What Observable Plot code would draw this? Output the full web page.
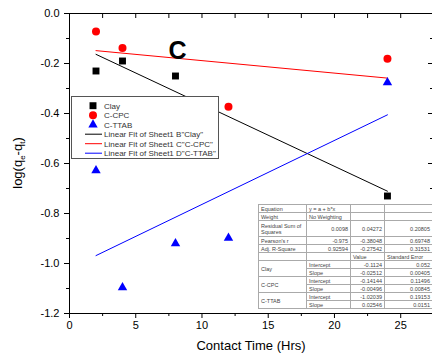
<!DOCTYPE html>
<html><head><meta charset="utf-8">
<script src="https://cdn.jsdelivr.net/npm/d3@7"></script>
<script src="https://cdn.jsdelivr.net/npm/@observablehq/plot@0.6"></script>
<style>
html,body{margin:0;padding:0;background:#fff;overflow:hidden}
#wrap{position:relative;width:432px;height:360px;font-family:"Liberation Sans",Arial,sans-serif}
#legend{position:absolute;left:71px;top:96px}
#tbl{position:absolute;left:258px;top:204px;border-collapse:collapse;table-layout:fixed;width:174px;background:#fff;border:1px solid #333;font-size:5.5px;color:#444;line-height:6px}
#tbl td{border:1px solid #aaa;padding:0 2px;height:7px;overflow:hidden;white-space:nowrap}
#tbl td.n{text-align:right}
</style></head><body><div id="wrap"></div>
<script>
// ---- data ----
const seriesNames = ["Clay", "C-CPC", "C-TTAB"];
const seriesColors = ["#000000", "#ff0000", "#0000ff"];
const fitLabels = ["Linear Fit of Sheet1 B\"Clay\"", "Linear Fit of Sheet1 C\"C-CPC\"", "Linear Fit of Sheet1 D\"C-TTAB\""];
const clayX = [2, 4, 8, 24];
const clayY = [-0.23, -0.19, -0.25, -0.73];
const cpcX = [2, 4, 12, 24];
const cpcY = [-0.072, -0.138, -0.373, -0.181];
const ttabX = [2, 4, 8, 12, 24];
const ttabY = [-0.628, -1.096, -0.92, -0.898, -0.276];
const xMajor = [0, 5, 10, 15, 20, 25];
const xMinor = [2.5, 7.5, 12.5, 17.5, 22.5];
const yMajor = [0, -0.2, -0.4, -0.6, -0.8, -1.0, -1.2];
const yMinor = [-0.1, -0.3, -0.5, -0.7, -0.9, -1.1];
const statNames = ["Equation", "Weight", "Residual Sum of Squares", "Pearson's r", "Adj. R-Square"];
const statValues = [["y = a + b*x", "", ""], ["No Weighting", "", ""], ["0.0098", "0.04272", "0.20805"], ["-0.975", "-0.38048", "0.69748"], ["0.92594", "-0.27542", "0.31531"]];
const paramHeader = ["Value", "Standard Error"];
const paramNames = ["Intercept", "Slope"];
const clayParams = [["-0.1124", "0.052"], ["-0.02512", "0.00405"]];
const cpcParams = [["-0.14144", "0.11496"], ["-0.00496", "0.00845"]];
const ttabParams = [["-1.02039", "0.19153"], ["0.02546", "0.0151"]];

const rows = [
  ...clayX.map((x, i) => ({series: "Clay", x, y: clayY[i]})),
  ...cpcX.map((x, i) => ({series: "C-CPC", x, y: cpcY[i]})),
  ...ttabX.map((x, i) => ({series: "C-TTAB", x, y: ttabY[i]}))
];
const fmt = d => d.toFixed(1);
const blank = () => "";

const plot = Plot.plot({
  width: 432, height: 360,
  marginLeft: 69, marginRight: 0, marginTop: 13, marginBottom: 47,
  x: {domain: [0, 27.4]},
  y: {domain: [-1.2, 0]},
  color: {domain: seriesNames, range: seriesColors},
  style: {fontFamily: "'Liberation Sans', Arial, sans-serif", color: "black", background: "white"},
  marks: [
    Plot.ruleX([0], {stroke: "black"}),
    Plot.ruleY([0, -1.2], {stroke: "black"}),
    Plot.axisX(xMajor, {tickSize: 5, tickPadding: 3, tickFormat: d => String(d), fontSize: 11, label: null}),
    Plot.axisX(xMinor, {tickSize: 3, tickFormat: blank, label: null}),
    Plot.axisX([...xMajor, ...xMinor], {anchor: "top", tickSize: -4, tickFormat: blank, label: null}),
    Plot.axisY(yMajor, {tickSize: 5, tickPadding: 5, tickFormat: fmt, fontSize: 11, label: null}),
    Plot.axisY(yMinor, {tickSize: 3, tickFormat: blank, label: null}),
    Plot.axisY(yMajor, {anchor: "right", tickSize: -5, tickFormat: blank, label: null}),
    Plot.axisY(yMinor, {anchor: "right", tickSize: -3, tickFormat: blank, label: null}),
    Plot.linearRegressionY(rows, {x: "x", y: "y", stroke: "series", ci: 0, strokeWidth: 1}),
    Plot.dot(rows.filter(d => d.series === "Clay"), {x: "x", y: "y", fill: "series", symbol: "square", r: 3.9}),
    Plot.dot(rows.filter(d => d.series === "C-CPC"), {x: "x", y: "y", fill: "series", symbol: "circle", r: 4}),
    Plot.dot(rows.filter(d => d.series === "C-TTAB"), {x: "x", y: "y", fill: "series", symbol: "triangle", r: 3.5}),
    Plot.text(["C"], {frameAnchor: "top-left", dx: 99, dy: 28, fontSize: 25, fontWeight: "bold"}),
    Plot.text(["Contact Time (Hrs)"], {frameAnchor: "bottom", dy: 36, fontSize: 13})
  ]
});
const wrap = document.getElementById("wrap");
wrap.appendChild(plot);

// y-axis label with subscripts
const svg = d3.select(plot);
const yl = svg.append("text")
  .attr("transform", "translate(22,163) rotate(-90)")
  .attr("text-anchor", "middle")
  .attr("font-size", 13)
  .attr("fill", "black");
yl.append("tspan").text("log(q");
yl.append("tspan").attr("font-size", 8).attr("dy", 3).text("e");
yl.append("tspan").attr("dy", -3).text("-q");
yl.append("tspan").attr("font-size", 8).attr("dy", 3).text("t");
yl.append("tspan").attr("dy", -3).text(")");

// legend
const lg = d3.select(wrap).append("svg").attr("id", "legend")
  .attr("width", 148).attr("height", 64);
lg.append("rect").attr("x", 0.5).attr("y", 0.5).attr("width", 147).attr("height", 62)
  .attr("fill", "white").attr("stroke", "#555");
const rowY = i => 9.7 + i * 9.5;
const sym = [d3.symbolSquare, d3.symbolCircle, d3.symbolTriangle];
const symSize = [48, 50, 38];
seriesNames.forEach((s, i) => {
  lg.append("path").attr("d", d3.symbol(sym[i], symSize[i])())
    .attr("transform", `translate(22,${rowY(i)})`).attr("fill", seriesColors[i]);
  lg.append("text").attr("x", 33).attr("y", rowY(i)).attr("dy", "0.35em")
    .attr("font-size", 8).attr("fill", "#333").text(s);
});
fitLabels.forEach((s, i) => {
  const y = rowY(i + 3);
  lg.append("line").attr("x1", 14).attr("x2", 31).attr("y1", y).attr("y2", y)
    .attr("stroke", seriesColors[i]).attr("stroke-width", 1);
  lg.append("text").attr("x", 33).attr("y", y).attr("dy", "0.35em")
    .attr("font-size", 8).attr("fill", "#333").text(s);
});

// fit table
const tbl = document.createElement("table");
tbl.id = "tbl";
let html = '<colgroup><col style="width:48px"><col style="width:44px"><col style="width:34px"><col style="width:48px"></colgroup>';
statNames.forEach((n, i) => {
  const v = statValues[i];
  const cls = i < 2 ? "" : "n";
  const h = i === 2 ? ' style="height:15px"' : "";
  html += `<tr><td${h}>${i === 2 ? "Residual Sum of<br>Squares" : n}</td><td class="${cls}">${v[0]}</td><td class="${cls}">${v[1]}</td><td class="${cls}">${v[2]}</td></tr>`;
});
html += `<tr><td></td><td></td><td>${paramHeader[0]}</td><td>${paramHeader[1]}</td></tr>`;
[clayParams, cpcParams, ttabParams].forEach((p, k) => {
  paramNames.forEach((pn, j) => {
    html += "<tr>" + (j === 0 ? `<td rowspan="2">${seriesNames[k]}</td>` : "") +
      `<td>${pn}</td><td class="n">${p[j][0]}</td><td class="n">${p[j][1]}</td></tr>`;
  });
});
tbl.innerHTML = html;
wrap.appendChild(tbl);
</script>
</body></html>
